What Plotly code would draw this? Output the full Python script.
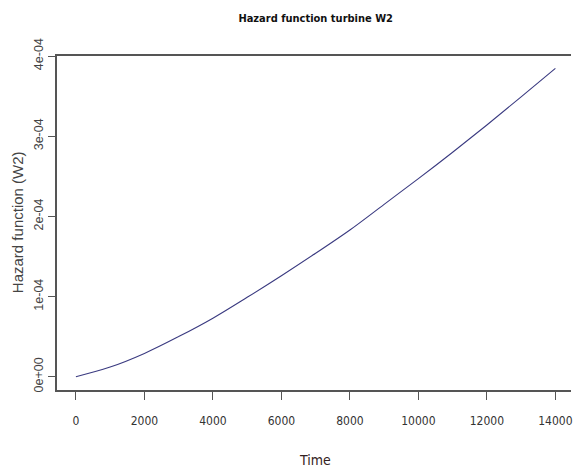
import plotly.graph_objects as go

# Data
time = [0, 1000, 2000, 3000, 4000, 5000, 6000, 7000, 8000, 9000, 10000, 11000, 12000, 13000, 14000]
hazard = [0.0, 1.2e-05, 2.9e-05, 5.0e-05, 7.3e-05, 9.9e-05, 1.26e-04, 1.54e-04, 1.83e-04,
          2.15e-04, 2.47e-04, 2.80e-04, 3.14e-04, 3.49e-04, 3.845e-04]

x_tickvals = [0, 2000, 4000, 6000, 8000, 10000, 12000, 14000]
x_ticktext = ["0", "2000", "4000", "6000", "8000", "10000", "12000", "14000"]
y_tickvals = [0, 1e-04, 2e-04, 3e-04, 4e-04]
y_ticktext = ["0e+00", "1e-04", "2e-04", "3e-04", "4e-04"]

title_text = "Hazard function turbine W2"
x_title = "Time"
y_title = "Hazard function (W2)"

W, H = 573, 473
L, R, T, B = 57, 0, 56, 83
plot_w = W - L - R
plot_h = H - T - B

narrow = "Liberation Sans Narrow, DejaVu Sans Condensed, Arial Narrow, sans-serif"
regular = "Liberation Sans, Arial, sans-serif"
axis_col = "#555555"

fig = go.Figure()
fig.add_trace(go.Scatter(
    x=time, y=hazard, mode="lines",
    line=dict(color="#3a3a80", width=1.1, shape="spline"),
    hoverinfo="skip", showlegend=False,
))

fig.update_layout(
    width=W, height=H,
    margin=dict(l=L, r=R, t=T, b=B, pad=0),
    paper_bgcolor="white", plot_bgcolor="white",
    showlegend=False,
    title=dict(
        text=title_text, xref="container", yref="container",
        x=315.7 / W, y=1 - 18.5 / H, xanchor="center", yanchor="middle",
        font=dict(family=narrow, size=11, color="#111111", weight="bold"),
    ),
    xaxis=dict(
        range=[-552, 14456],
        tickvals=x_tickvals, ticktext=x_ticktext,
        showgrid=False, zeroline=False,
        showline=True, linecolor=axis_col, linewidth=1.5, mirror=True,
        ticks="outside", ticklen=8, tickwidth=1, tickcolor=axis_col,
        tickfont=dict(family=narrow, size=12, color="#333333"),
        ticklabelstandoff=11,
        ticklabeloverflow="allow",
    ),
    yaxis=dict(
        range=[-1.66e-05, 4.0e-04],
        tickvals=y_tickvals, ticktext=y_ticktext,
        tickangle=-90,
        showgrid=False, zeroline=False,
        showline=True, linecolor=axis_col, linewidth=1.5, mirror=False,
        ticks="outside", ticklen=7, tickwidth=1, tickcolor=axis_col,
        tickfont=dict(family=regular, size=12.5, color="#444444"),
        ticklabelstandoff=0,
    ),
    annotations=[
        dict(text=x_title, xref="paper", yref="paper",
             x=(315.7 - L) / plot_w, y=(T + plot_h - 460) / plot_h,
             xanchor="center", yanchor="middle", showarrow=False,
             font=dict(family=narrow, size=14, color="#332222")),
        dict(text=y_title, xref="paper", yref="paper",
             x=(17 - L) / plot_w, y=(T + plot_h - 222) / plot_h,
             xanchor="center", yanchor="middle", showarrow=False, textangle=-90,
             font=dict(family=regular, size=15, color="#444444")),
    ],
)

fig.write_html(
    "out.html",
    config={"displayModeBar": False},
    post_script="document.body.style.margin='0';document.body.style.overflow='hidden';",
)
